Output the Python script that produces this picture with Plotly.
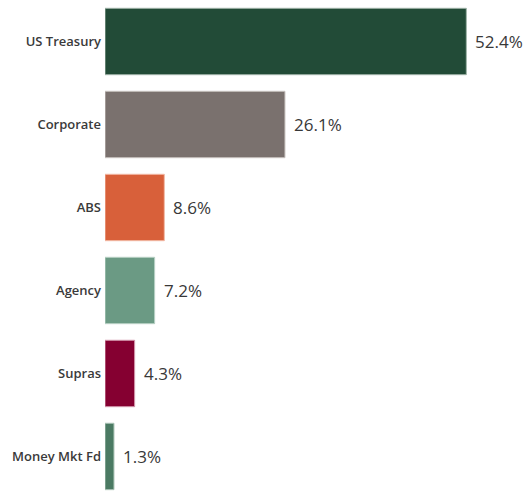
import plotly.graph_objects as go

# Portfolio allocation by sector (% of holdings)
categories = ["US Treasury", "Corporate", "ABS", "Agency", "Supras", "Money Mkt Fd"]
values = [52.4, 26.1, 8.6, 7.2, 4.3, 1.3]
colors = ["#224b37", "#7a716e", "#d8603a", "#6b9a84", "#850031", "#4b7a63"]
edge_colors = ["#9fb3a8", "#c9c3c0", "#f2b9a6", "#b9d1c5", "#d399ad", "#a9c2b5"]
value_labels = [f"{v:.1f}%" for v in values]

positions = list(range(len(categories)))

fig = go.Figure(
    go.Bar(
        x=values,
        y=positions,
        orientation="h",
        width=0.8,
        marker=dict(color=colors, line=dict(color=edge_colors, width=1)),
        hoverinfo="skip",
    )
)

# value labels placed just past the end of each bar
for pos, val, label in zip(positions, values, value_labels):
    fig.add_annotation(
        x=val,
        y=pos,
        text=label,
        showarrow=False,
        xanchor="left",
        yanchor="middle",
        xshift=7,
        font=dict(family="Open Sans", size=17, color="#383838"),
    )

fig.update_layout(
    width=527,
    height=491,
    margin=dict(l=105, r=0, t=0, b=0),
    paper_bgcolor="white",
    plot_bgcolor="white",
    showlegend=False,
    font=dict(family="Open Sans"),
)
fig.update_xaxes(range=[0, 61.2], visible=False, fixedrange=True)
fig.update_yaxes(
    range=[5.416, -0.5],
    tickmode="array",
    tickvals=positions,
    ticktext=categories,
    tickfont=dict(family="Open Sans", size=13, color="#3a3a3a", weight=600),
    showgrid=False,
    zeroline=False,
    showline=False,
    ticks="",
    ticklabelstandoff=3,
)

fig.write_html("out.html")
